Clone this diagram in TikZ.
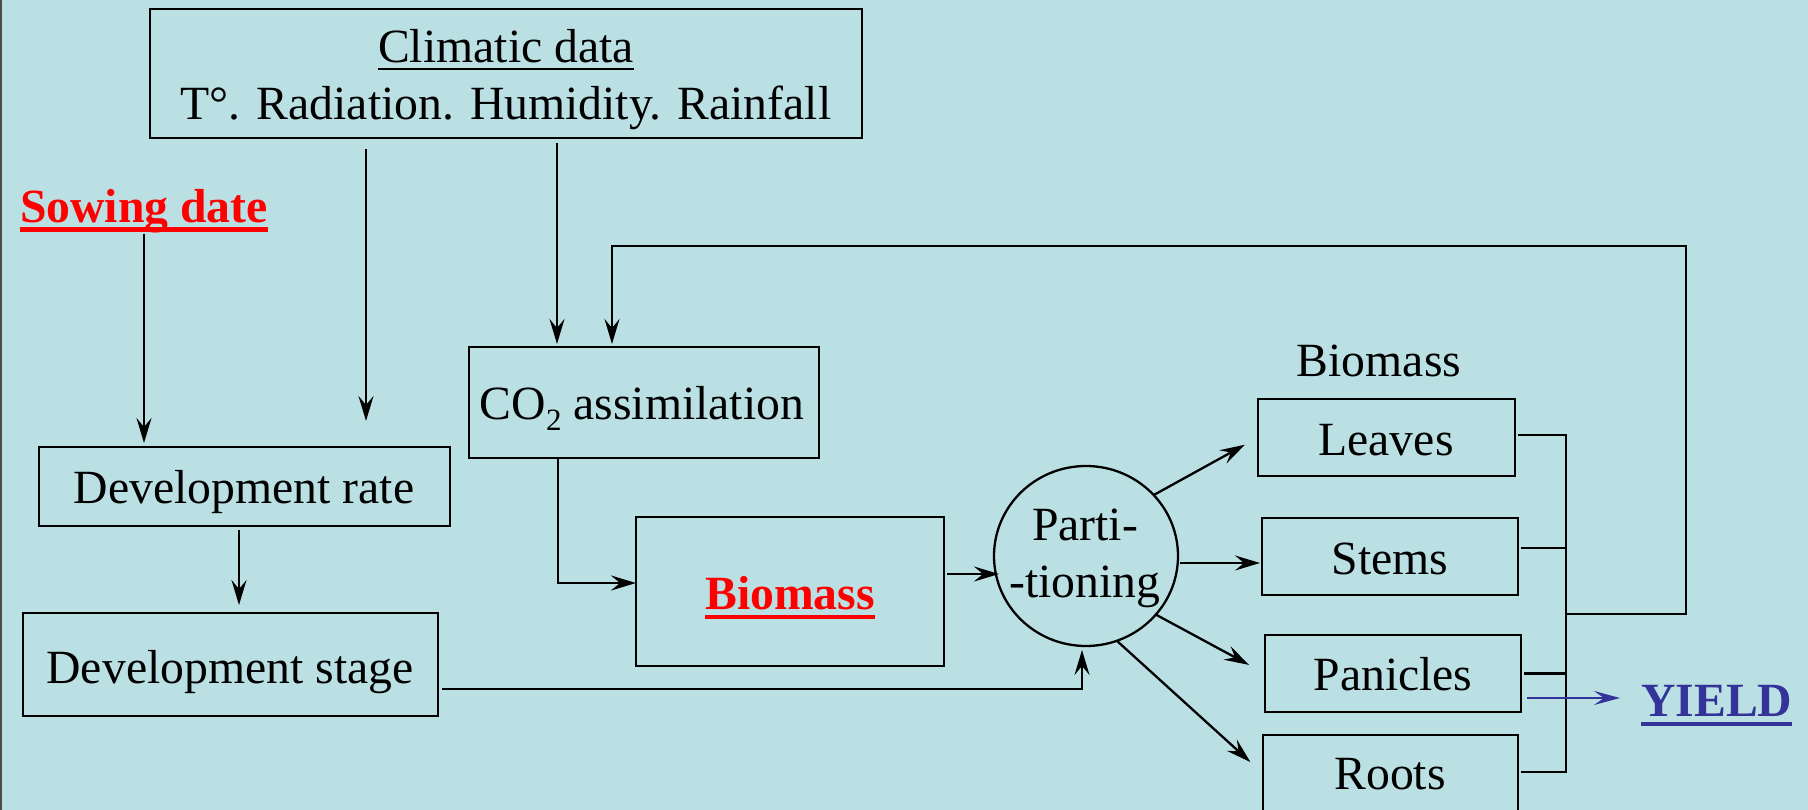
\documentclass[tikz,border=0pt]{standalone}
\usepackage{fontspec}
\setmainfont{Liberation Serif}
\usetikzlibrary{arrows.meta,calc,shapes.geometric}
\definecolor{bgc}{RGB}{187,224,227}
\definecolor{yieldblue}{RGB}{51,51,153}
\newcommand\myul[3]{\setbox0\hbox{#1}\rlap{\rule[#2]{\wd0}{#3}}\box0}
\begin{document}
\begin{tikzpicture}[x=1pt,y=-1pt,
  box/.style={draw,line width=2.8pt,inner sep=0pt,outer sep=0pt},
  txt/.style={anchor=base,inner sep=0pt,font=\fontsize{47.7pt}{57pt}\selectfont},
  conn/.style={line width=2.3pt},
  arr/.style={conn,-{Stealth[length=25pt,width=15pt,inset=9pt]}},
]
\fill[bgc] (0,0) rectangle (1808,810);
\useasboundingbox (0,0) rectangle (1808,810);
\draw[line width=2pt,black!70] (1,0) -- (1,810);

% boxes
\node[box,minimum width=712pt,minimum height=129pt] (clim) at (506,73.5) {};
\node[box,minimum width=350pt,minimum height=111pt] (co2) at (644,402.5) {};
\node[box,minimum width=411pt,minimum height=79pt] (devrate) at (244.5,486.5) {};
\node[box,minimum width=415pt,minimum height=103pt] (devstage) at (230.5,664.5) {};
\node[box,minimum width=308pt,minimum height=149pt] (biomass) at (790,591.5) {};
\node[draw,ellipse,line width=2.3pt,inner sep=0pt,outer sep=0pt,minimum width=184pt,minimum height=180pt] (part) at (1086,556) {};
\node[box,minimum width=257pt,minimum height=77pt] (leaves) at (1386.5,437.5) {};
\node[box,minimum width=256pt,minimum height=77pt] (stems) at (1390,556.5) {};
\node[box,minimum width=256pt,minimum height=77pt] (panicles) at (1393,673.5) {};
\node[box,minimum width=255pt,minimum height=77pt] (roots) at (1390.5,773.5) {};

% texts
\node[txt] (climt1) at (506,63) {\myul{Climatic data}{-7pt}{2.3pt}};
\node[txt] (climt2) at (506,120) {T°. Radiation. Humidity. Rainfall};
\node[txt,text=red] (sowing) at (144,223) {\bfseries\myul{Sowing date}{-9pt}{4.5pt}};
\node[txt] (co2t) at (642,419) {CO\raisebox{-11pt}{\fontsize{31pt}{31pt}\selectfont 2} assimilation};
\node[txt] (devratet) at (244,503) {Development rate};
\node[txt] (devstaget) at (230,683) {Development stage};
\node[txt,text=red] (biomasst) at (790,609) {\bfseries\myul{Biomass}{-10pt}{4pt}};
\node[txt] (part1) at (1085,540) {Parti-};
\node[txt] (part2) at (1085,597) {-tioning};
\node[txt] (biolabel) at (1379,377) {Biomass};
\node[txt] (leavest) at (1386,455) {Leaves};
\node[txt] (stemst) at (1390,574) {Stems};
\node[txt] (paniclest) at (1393,690) {Panicles};
\node[txt] (rootst) at (1390,789) {Roots};
\node[txt,anchor=base west,text=yieldblue] (yield) at (1641,716) {\bfseries\myul{YIELD}{-10pt}{4.5pt}};

% connectors
\draw[arr,shorten >=4pt] (sowing.south) -- (sowing.south |- devrate.north);
\coordinate (c1) at ([xshift=-140pt]clim.south);
\draw[arr,shorten <=11pt,shorten >=26pt] (c1) -- (c1 |- devrate.north);
\coordinate (c2) at ([xshift=51pt]clim.south);
\draw[arr,shorten <=5pt,shorten >=3pt] (c2) -- (c2 |- co2.north);
\coordinate (c3) at ([xshift=-5.5pt]devrate.south);
\draw[arr,shorten <=4pt,shorten >=8pt] (c3) -- (c3 |- devstage.north);
\draw[arr] ([xshift=-86pt]co2.south) |- ([yshift=8.5pt]biomass.west);
\coordinate (c4) at ([yshift=17.5pt]biomass.east);
\draw[arr,shorten <=3pt,shorten >=-5pt] (c4) -- (c4 -| part.west);
\draw[arr,shorten <=4pt,shorten >=4pt] ([yshift=-24.5pt]devstage.east) -| ([xshift=-4pt]part.south);

\draw[arr,shorten >=15pt] (part.42) -- (leaves.west);
\coordinate (c5) at ([yshift=-7pt]part.east);
\draw[arr,shorten <=2pt,shorten >=2pt] (c5) -- (c5 -| stems.west);
\draw[arr,shorten >=18pt] (part.-40) -- (panicles.west);
\draw[arr,shorten >=17pt] (part.-70) -- (roots.west);

% bracket and feedback
\coordinate (bx) at (1566,435);
\coordinate (l1) at ([xshift=3pt,yshift=2.5pt]leaves.east);
\coordinate (r1) at ([xshift=3pt,yshift=1.5pt]roots.east);
\draw[conn] (l1) -- (l1 -| bx) -- (r1 -| bx) -- (r1);
\coordinate (s1) at ([xshift=3pt,yshift=8.5pt]stems.east);
\draw[conn] (s1) -- (s1 -| bx);
\coordinate (p1) at ([xshift=3pt]panicles.east);
\draw[conn] (p1) -- (p1 -| bx);
\coordinate (fb) at (1566,614);
\coordinate (fbc) at (1686,246);
\coordinate (co2fb) at ([xshift=-32pt]co2.north);
\draw[arr,shorten >=3pt] (fb) -| (fbc) -| (co2fb);

\draw[line width=2pt,yieldblue,-{Stealth[length=26pt,width=14pt,inset=10pt]}] ([xshift=6pt,yshift=-24.5pt]panicles.east) -- ($(yield.base west)+(-21,-18)$);
\end{tikzpicture}
\end{document}
